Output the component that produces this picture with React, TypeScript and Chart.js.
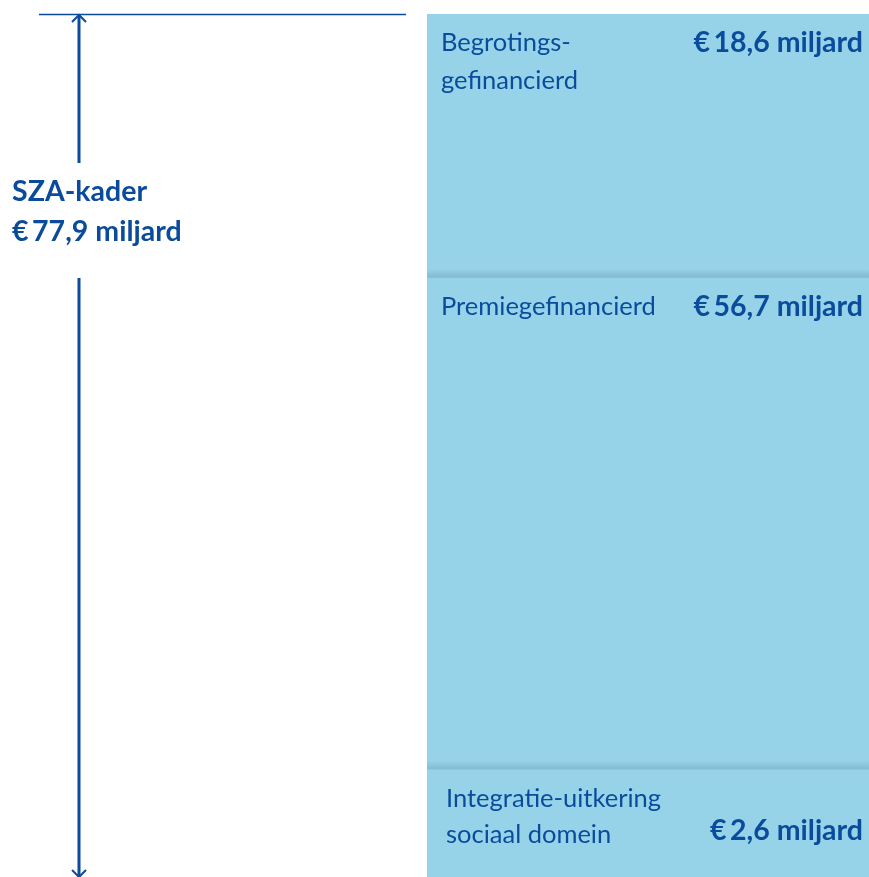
import React, { useEffect, useRef } from "react";
import { Chart, registerables } from "chart.js";

Chart.register(...registerables);

// Categories (stack order: bottom to top)
const categories = ["Integratie-uitkering sociaal domein", "Premiegefinancierd", "Begrotingsgefinancierd"];
// Category label lines as printed in the blocks
const categoryLines = [
  ["Integratie-uitkering", "sociaal domein"],
  ["Premiegefinancierd"],
  ["Begrotings-", "gefinancierd"],
];
// Printed amounts (miljard euro)
const amounts = [2.6, 56.7, 18.6];
const totalAmount = 77.9;
const drawnBlocks = [9.7, 44.4, 23.8];
const totalLabel = ["SZA-kader", "€ 77,9 miljard"];

const BLUE = "#0a4b9c";
const BAR = "#96d3e8";

const fmt = (v: number) => "€\u2009" + v.toFixed(1).replace(".", ",") + " miljard";

const overlay = {
  id: "overlay",
  afterDatasetsDraw(chart: any) {
    const ctx = chart.ctx as CanvasRenderingContext2D;
    const y = chart.scales.y;
    ctx.save();
    // shadows at block boundaries (bottom of each upper block)
    for (let i = 1; i < categories.length; i++) {
      const el: any = chart.getDatasetMeta(i).data[0];
      const left = el.x - el.width / 2;
      const bottom = el.base;
      const g = ctx.createLinearGradient(0, bottom - 9, 0, bottom);
      g.addColorStop(0, "rgba(110,160,180,0)");
      g.addColorStop(1, "rgba(110,160,180,0.5)");
      ctx.fillStyle = g;
      ctx.fillRect(left, bottom - 9, el.width, 9);
    }
    // labels in blocks
    ctx.fillStyle = BLUE;
    ctx.textBaseline = "middle";
    for (let i = 0; i < categories.length; i++) {
      const el: any = chart.getDatasetMeta(i).data[0];
      const left = el.x - el.width / 2;
      const right = el.x + el.width / 2;
      const top = el.y;
      const lines = categoryLines[i];
      const isBottom = i === 0;
      const lx = left + (isBottom ? 19 : 14);
      ctx.font = "400 25.5px Lato";
      ctx.textAlign = "left";
      lines.forEach((t, k) => ctx.fillText(t, lx, top + 29 + k * (isBottom ? 36 : 38)));
      ctx.font = "700 28.5px Lato";
      ctx.textAlign = "right";
      ctx.fillText(fmt(amounts[i]), right - 6, isBottom ? top + 61 : top + 29);
    }
    // dimension arrow
    const yTop = y.getPixelForValue(y.max);
    const yBot = y.getPixelForValue(0);
    const ax = 79;
    ctx.strokeStyle = BLUE;
    ctx.lineWidth = 1.5;
    ctx.beginPath();
    ctx.moveTo(39, yTop + 0.5);
    ctx.lineTo(406, yTop + 0.5);
    ctx.stroke();
    ctx.lineWidth = 3;
    ctx.beginPath();
    ctx.moveTo(ax, yTop + 1);
    ctx.lineTo(ax, yTop + 149);
    ctx.moveTo(ax, yTop + 264);
    ctx.lineTo(ax, yBot);
    ctx.stroke();
    ctx.lineWidth = 2;
    ctx.beginPath();
    ctx.moveTo(ax - 7, yTop + 8);
    ctx.lineTo(ax, yTop + 1);
    ctx.lineTo(ax + 7, yTop + 8);
    ctx.moveTo(ax - 7, yBot - 7);
    ctx.lineTo(ax, yBot);
    ctx.lineTo(ax + 7, yBot - 7);
    ctx.stroke();
    // total label
    ctx.fillStyle = BLUE;
    ctx.font = "700 28.5px Lato";
    ctx.textAlign = "left";
    ctx.fillText(totalLabel[0], 12, yTop + 178);
    ctx.fillText(fmt(totalAmount), 12, yTop + 218);
    ctx.restore();
  },
};

export default function App() {
  const ref = useRef<HTMLCanvasElement | null>(null);
  useEffect(() => {
    if (!ref.current) return;
    const total = drawnBlocks.reduce((a, b) => a + b, 0);
    const chart = new Chart(ref.current, {
      type: "bar",
      data: {
        labels: ["SZA-kader"],
        datasets: categories.map((c, i) => ({
          label: c,
          data: [drawnBlocks[i]],
          backgroundColor: BAR,
          borderWidth: 0,
          barPercentage: 1,
          categoryPercentage: 1,
        })),
      },
      options: {
        animation: false,
        responsive: false,
        devicePixelRatio: 1,
        layout: { padding: { left: 427, top: 14, right: 0, bottom: 0 } },
        plugins: { legend: { display: false }, tooltip: { enabled: false } },
        scales: {
          x: { stacked: true, display: false },
          y: { stacked: true, display: false, min: 0, max: total },
        },
      },
      plugins: [overlay],
    });
    return () => chart.destroy();
  }, []);
  return (
    <div style={{ position: "absolute", left: 0, top: 0, width: 869, height: 877, background: "#fff" }}>
      <canvas ref={ref} width={869} height={877} style={{ display: "block" }} />
    </div>
  );
}
